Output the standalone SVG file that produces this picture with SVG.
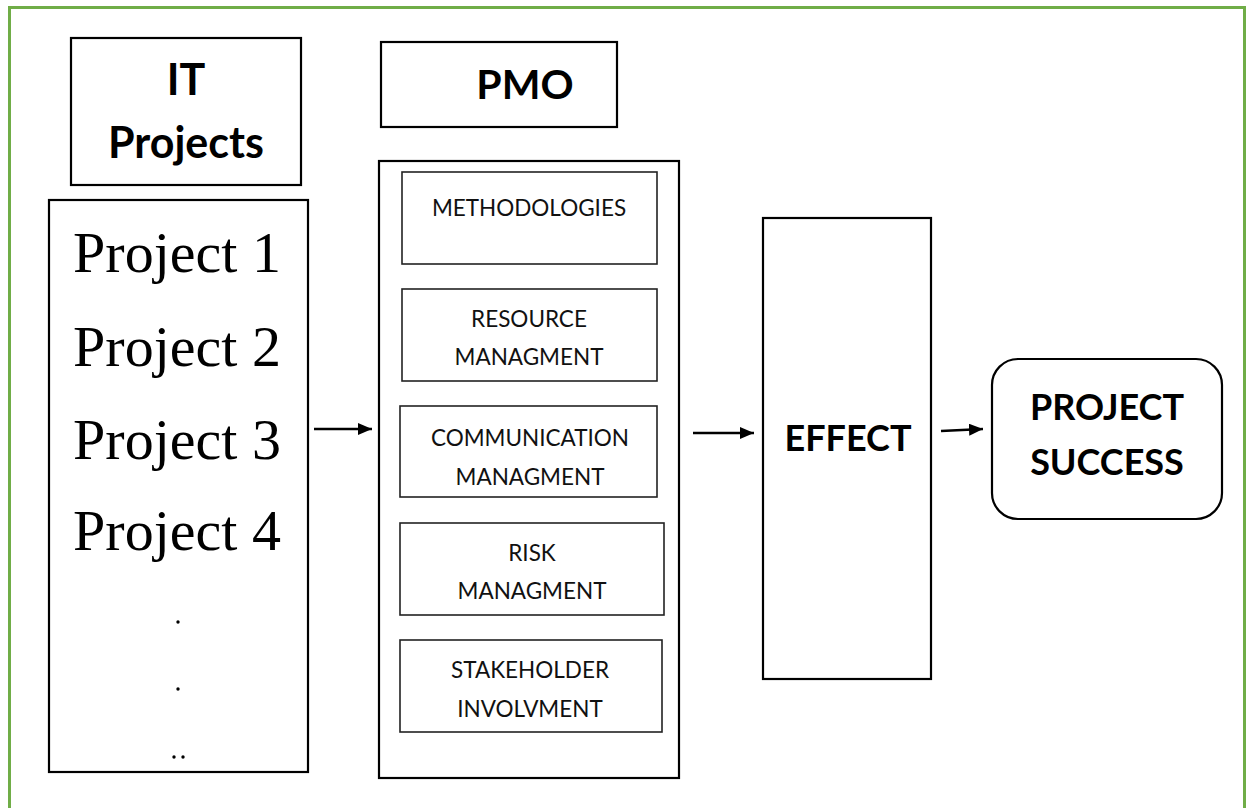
<svg xmlns="http://www.w3.org/2000/svg" width="1246" height="808" viewBox="0 0 1246 808">
  <defs>
    <marker id="arrow" viewBox="0 0 14 12" refX="14" refY="6" markerWidth="14" markerHeight="12" markerUnits="userSpaceOnUse" orient="auto">
      <path d="M0,0 L14,6 L0,12 z" fill="#000"/>
    </marker>
    <style>
      .box { fill: #fff; stroke: #000; stroke-width: 2.2; }
      .inner { fill: #fff; stroke: #222; stroke-width: 1.6; }
      .head { font-family: Lato, "Open Sans", "Liberation Sans", sans-serif; font-weight: bold; fill: #000; text-anchor: middle; }
      .item { font-family: Lato, "Open Sans", "Liberation Sans", sans-serif; font-size: 22.5px; fill: #111; text-anchor: middle; }
      .proj { font-family: "Liberation Serif", "Times New Roman", serif; font-size: 58px; fill: #000; text-anchor: middle; }
      .link { stroke: #000; stroke-width: 2.4; fill: none; marker-end: url(#arrow); }
    </style>
  </defs>

  <rect width="1246" height="808" fill="#fff"/>
  <!-- page frame -->
  <rect x="9.5" y="7.5" width="1235" height="820" fill="none" stroke="#70ad47" stroke-width="3"/>

  <g id="it-projects-title">
    <rect class="box" x="71" y="38" width="230" height="147"/>
    <text class="head" x="186" y="95" font-size="43">IT</text>
    <text class="head" x="186" y="158" font-size="43">Projects</text>
  </g>

  <g id="project-list">
    <rect class="box" x="49" y="200" width="259" height="572"/>
    <text class="proj" x="177" y="272">Project 1</text>
    <text class="proj" x="177" y="366">Project 2</text>
    <text class="proj" x="177" y="459">Project 3</text>
    <text class="proj" x="177" y="550">Project 4</text>
    <circle cx="178" cy="622" r="1.7" fill="#000"/>
    <circle cx="178" cy="689" r="1.7" fill="#000"/>
    <circle cx="174" cy="757" r="1.7" fill="#000"/>
    <circle cx="183" cy="757" r="1.7" fill="#000"/>
  </g>

  <g id="pmo-title">
    <rect class="box" x="381" y="42" width="236" height="85"/>
    <text class="head" x="525" y="99" font-size="41">PMO</text>
  </g>

  <g id="pmo">
    <rect class="box" x="379" y="161" width="300" height="617"/>
    <g id="methodologies">
      <rect class="inner" x="402" y="172" width="255" height="92"/>
      <text class="item" x="529" y="216">METHODOLOGIES</text>
    </g>
    <g id="resource-management">
      <rect class="inner" x="402" y="289" width="255" height="92"/>
      <text class="item" x="529" y="327">RESOURCE</text>
      <text class="item" x="529" y="365">MANAGMENT</text>
    </g>
    <g id="communication-management">
      <rect class="inner" x="400" y="406" width="257" height="91"/>
      <text class="item" x="530" y="446">COMMUNICATION</text>
      <text class="item" x="530" y="485">MANAGMENT</text>
    </g>
    <g id="risk-management">
      <rect class="inner" x="400" y="523" width="264" height="92"/>
      <text class="item" x="532" y="561">RISK</text>
      <text class="item" x="532" y="599">MANAGMENT</text>
    </g>
    <g id="stakeholder-involvement">
      <rect class="inner" x="400" y="640" width="262" height="92"/>
      <text class="item" x="530" y="678">STAKEHOLDER</text>
      <text class="item" x="530" y="717">INVOLVMENT</text>
    </g>
  </g>

  <g id="effect">
    <rect class="box" x="763" y="218" width="168" height="461"/>
    <text class="head" x="848" y="451" font-size="36">EFFECT</text>
  </g>

  <g id="project-success">
    <rect class="box" x="992" y="359" width="230" height="160" rx="26" ry="26"/>
    <text class="head" x="1107" y="420" font-size="36">PROJECT</text>
    <text class="head" x="1107" y="475" font-size="36">SUCCESS</text>
  </g>

  <g id="connectors">
    <line class="link" x1="314" y1="429" x2="372" y2="429"/>
    <line class="link" x1="693" y1="433" x2="754" y2="433"/>
    <line class="link" x1="941" y1="431" x2="983" y2="429"/>
  </g>
</svg>
